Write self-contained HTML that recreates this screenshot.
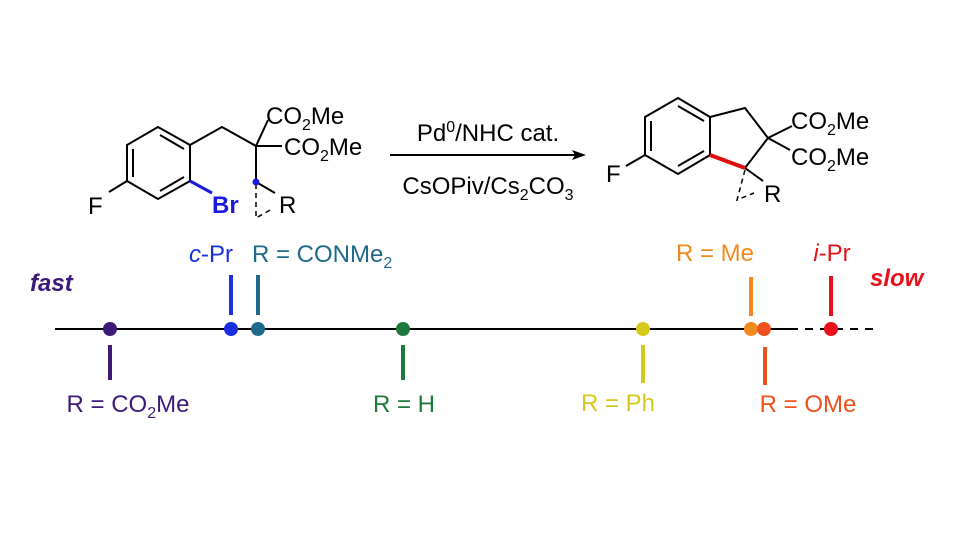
<!DOCTYPE html>
<html><head><style>body{margin:0;background:#fff}svg{display:block}text{font-family:"Liberation Sans",Arial,sans-serif;font-size:24px}</style></head><body>
<svg width="960" height="540" viewBox="0 0 960 540" xmlns="http://www.w3.org/2000/svg">
<g stroke="#000" stroke-width="2" fill="none">
<polygon points="158,127 190,145 190,181 158,199 127,181 127,145"/>
<line x1="160" y1="135" x2="184" y2="149"/><line x1="133" y1="149" x2="133" y2="177"/><line x1="160" y1="191" x2="184" y2="177"/>
<line x1="127" y1="181" x2="109" y2="192"/>
<polyline points="190,145 222,127 256,146 268,120"/>
<line x1="256" y1="146" x2="282" y2="146"/><line x1="256" y1="146" x2="256" y2="182"/>
<line x1="256" y1="182" x2="275" y2="193"/>
<polyline points="256,184 256,218 272,209" stroke-dasharray="5,4" stroke-width="1.5"/>
<line x1="390" y1="155" x2="575" y2="155"/>
<polygon points="586,155 572,150 575,155 572,160" fill="#000" stroke="none"/>
<polygon points="678,98 710,117 710,155 678,174 645,155 645,117"/>
<line x1="678" y1="106" x2="704" y2="121"/><line x1="651" y1="121" x2="651" y2="151"/><line x1="678" y1="166" x2="704" y2="151"/>
<polyline points="710,117 745,108 768,138 745,168"/>
<line x1="768" y1="138" x2="792" y2="126"/><line x1="768" y1="138" x2="790" y2="150"/>
<line x1="745" y1="168" x2="763" y2="181"/>
<polyline points="745,170 737,200 754,193" stroke-dasharray="5,4" stroke-width="1.5"/>
<line x1="645" y1="155" x2="626" y2="166"/>
<line x1="55" y1="329" x2="790" y2="329"/>
<line x1="790" y1="329" x2="880" y2="329" stroke-dasharray="8,7"/>
</g>
<line x1="190" y1="181" x2="212" y2="193" stroke="#1a1adf" stroke-width="3"/>
<circle cx="256" cy="182" r="3.5" fill="#1a1adf"/>
<line x1="710" y1="155" x2="745" y2="168" stroke="#e01010" stroke-width="4"/>
<text x="88" y="214">F</text><text x="212" y="213" fill="#1a1adf" font-weight="bold">Br</text>
<text x="279" y="213">R</text>
<text x="266" y="124">CO<tspan font-size="16" dy="6">2</tspan><tspan dy="-6">Me</tspan></text>
<text x="284" y="155">CO<tspan font-size="16" dy="6">2</tspan><tspan dy="-6">Me</tspan></text>
<text x="488" y="141" text-anchor="middle">Pd<tspan font-size="16" dy="-9">0</tspan><tspan dy="9">/NHC cat.</tspan></text>
<text x="488" y="194" text-anchor="middle">CsOPiv/Cs<tspan font-size="16" dy="6">2</tspan><tspan dy="-6">CO</tspan><tspan font-size="16" dy="6">3</tspan></text>
<text x="606" y="182">F</text><text x="764" y="202">R</text>
<text x="791" y="129">CO<tspan font-size="16" dy="6">2</tspan><tspan dy="-6">Me</tspan></text>
<text x="791" y="165">CO<tspan font-size="16" dy="6">2</tspan><tspan dy="-6">Me</tspan></text>
<text x="30" y="291" fill="#3d1a78" font-weight="bold" font-style="italic">fast</text>
<text x="870" y="286" fill="#e8101a" font-weight="bold" font-style="italic">slow</text>
<g stroke-width="4">
<line x1="110" y1="345" x2="110" y2="380" stroke="#3d1a78"/>
<line x1="231" y1="275" x2="231" y2="315" stroke="#1a2fe0"/>
<line x1="258" y1="275" x2="258" y2="315" stroke="#1f6a8a"/>
<line x1="403" y1="345" x2="403" y2="380" stroke="#1e7a3c"/>
<line x1="643" y1="345" x2="643" y2="383" stroke="#d6c81a"/>
<line x1="751" y1="277" x2="751" y2="316" stroke="#f08a1e"/>
<line x1="765" y1="347" x2="765" y2="385" stroke="#f0501e"/>
<line x1="831" y1="276" x2="831" y2="316" stroke="#e8101a"/>
</g>
<circle cx="110" cy="329" r="7" fill="#3d1a78"/>
<circle cx="231" cy="329" r="7" fill="#1a2fe0"/>
<circle cx="258" cy="329" r="7" fill="#1f6a8a"/>
<circle cx="403" cy="329" r="7" fill="#1e7a3c"/>
<circle cx="643" cy="329" r="7" fill="#d6c81a"/>
<circle cx="751" cy="329" r="7" fill="#f08a1e"/>
<circle cx="764" cy="329" r="7" fill="#f0501e"/>
<circle cx="831" cy="329" r="7" fill="#e8101a"/>
<text x="128" y="412" text-anchor="middle" fill="#3d1a78">R = CO<tspan font-size="16" dy="6">2</tspan><tspan dy="-6">Me</tspan></text>
<text x="211" y="262" text-anchor="middle" fill="#1a2fe0"><tspan font-style="italic">c</tspan>-Pr</text>
<text x="252" y="262" fill="#1f6a8a">R = CONMe<tspan font-size="16" dy="6">2</tspan></text>
<text x="404" y="412" text-anchor="middle" fill="#1e7a3c">R = H</text>
<text x="618" y="411" text-anchor="middle" fill="#d6c81a">R = Ph</text>
<text x="715" y="261" text-anchor="middle" fill="#f08a1e">R = Me</text>
<text x="808" y="412" text-anchor="middle" fill="#f0501e">R = OMe</text>
<text x="832" y="261" text-anchor="middle" fill="#e8101a"><tspan font-style="italic">i</tspan>-Pr</text>
</svg>
</body></html>
